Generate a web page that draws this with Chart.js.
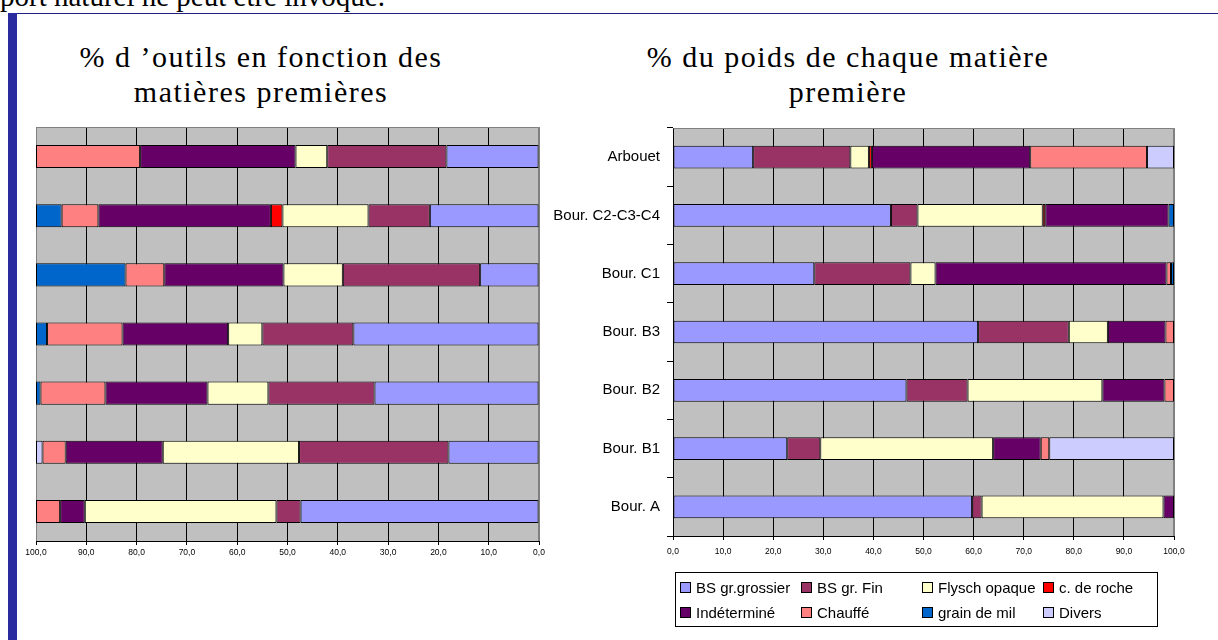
<!DOCTYPE html>
<html>
<head>
<meta charset="utf-8">
<script src="https://cdn.jsdelivr.net/npm/chart.js@4.4.1/dist/chart.umd.min.js"></script>
<style>
  body { margin: 0; background: #fff; }
  #page { position: relative; width: 1218px; height: 640px; overflow: hidden; background: #fff; }
  .serif { font-family: 'Liberation Serif', 'Times New Roman', serif; color: #000; position: absolute; }
  #topText { left: 0; top: -18px; font-size: 29px; line-height: 29px; white-space: nowrap; }
  #hline { position: absolute; left: 8px; top: 13px; width: 1210px; height: 1px; background: #202080; }
  #vbar { position: absolute; left: 8px; top: 13px; width: 9px; height: 627px; background: #2b2ba0; }
  .title { font-size: 30px; line-height: 35px; letter-spacing: 1.5px; text-align: center; width: 520px; top: 39px; }
  canvas { position: absolute; }
  #legend { position: absolute; left: 675px; top: 572px; width: 481px; height: 53px; border: 1px solid #000;
            font-family: 'Liberation Sans', Arial, sans-serif; font-size: 15px; color: #000; }
  .item { position: absolute; display: flex; align-items: center; height: 20px; white-space: nowrap; }
  .swatch { width: 9px; height: 9px; border: 1px solid #000; margin-right: 5px; }
</style>
</head>
<body>
<div id="page">
  <div id="topText" class="serif">port naturel ne peut être invoqué.</div>
  <div id="hline"></div>
  <div id="vbar"></div>
  <div class="serif title" style="left:1px">% d ’outils en fonction des<br>matières premières</div>
  <div class="serif title" style="left:588px">% du poids de chaque matière<br>première</div>
  <canvas id="outilsChart" width="560" height="480" style="left:0;top:100px"></canvas>
  <canvas id="poidsChart" width="698" height="480" style="left:520px;top:100px"></canvas>
  <div id="legend"></div>
</div>
<script>
// Catégories (de haut en bas)
const categories = ['Arbouet', 'Bour. C2-C3-C4', 'Bour. C1', 'Bour. B3', 'Bour. B2', 'Bour. B1', 'Bour. A'];
const seriesNames = ['BS gr.grossier', 'BS gr. Fin', 'Flysch opaque', 'c. de roche', 'Indéterminé', 'Chauffé', 'grain de mil', 'Divers'];
const seriesColors = ['#9999ff', '#993366', '#ffffcc', '#ff0000', '#660066', '#ff8080', '#0066cc', '#ccccff'];
const xTicks = [0, 10, 20, 30, 40, 50, 60, 70, 80, 90, 100];

// % d'outils
const outilsGrossier = [18.4, 21.7, 11.7, 36.9, 32.7, 18.0, 47.4];
const outilsFin      = [23.7, 12.2, 27.3, 18.1, 21.1, 29.7, 4.8];
const outilsFlysch   = [6.3, 17.1, 11.8, 6.8, 12.1, 27.1, 38.1];
const outilsRoche    = [0, 2.3, 0, 0, 0, 0, 0];
const outilsIndet    = [30.9, 34.3, 23.7, 21.0, 20.3, 19.3, 4.9];
const outilsChauffe  = [20.7, 7.3, 7.7, 15.0, 12.9, 4.6, 4.8];
const outilsGrain    = [0, 5.1, 17.8, 2.2, 0.9, 0, 0];
const outilsDivers   = [0, 0, 0, 0, 0, 1.3, 0];

// % du poids
const poidsGrossier = [16.0, 43.5, 28.2, 60.9, 46.6, 22.8, 59.7];
const poidsFin      = [19.4, 5.3, 19.2, 18.1, 12.2, 6.6, 1.9];
const poidsFlysch   = [3.7, 25.0, 5.0, 7.8, 26.9, 34.5, 36.3];
const poidsRoche    = [0.6, 0.5, 0, 0, 0, 0, 0];
const poidsIndet    = [31.6, 24.6, 46.1, 11.5, 12.4, 9.5, 2.1];
const poidsChauffe  = [23.3, 0, 0.9, 1.7, 1.9, 1.7, 0];
const poidsGrain    = [0, 1.1, 0.6, 0, 0, 0, 0];
const poidsDivers   = [5.4, 0, 0, 0, 0, 24.9, 0];

const outilsSeries = [outilsGrossier, outilsFin, outilsFlysch, outilsRoche, outilsIndet, outilsChauffe, outilsGrain, outilsDivers];
const poidsSeries = [poidsGrossier, poidsFin, poidsFlysch, poidsRoche, poidsIndet, poidsChauffe, poidsGrain, poidsDivers];

const sansFont = "'Liberation Sans', Arial, sans-serif";

function makeDatasets(series) {
    return series.map((data, i) => ({
        label: seriesNames[i],
        data: data,
        backgroundColor: seriesColors[i],
        borderColor: '#000',
        borderWidth: 1,
        borderSkipped: false,
        barPercentage: 0.39,
        categoryPercentage: 1
    }));
}

// fond gris + cadre de la zone de tracé
const plotFrame = {
    id: 'plotFrame',
    beforeDraw(chart) {
        const a = chart.chartArea, ctx = chart.ctx;
        ctx.save();
        ctx.fillStyle = '#c0c0c0';
        ctx.fillRect(a.left, a.top, a.right - a.left, a.bottom - a.top);
        ctx.restore();
    },
    beforeDatasetsDraw(chart, args, opts) {
        const a = chart.chartArea, ctx = chart.ctx;
        const l = a.left + 0.5, r = Math.round(a.right) - 0.5, t = a.top + 0.5, b = Math.round(a.bottom);
        ctx.save();
        ctx.strokeStyle = '#808080';
        ctx.lineWidth = 1;
        ctx.beginPath();
        ctx.moveTo(l, t); ctx.lineTo(r, t);
        ctx.moveTo(r, t); ctx.lineTo(r, b);
        if (opts.left) { ctx.moveTo(l, t); ctx.lineTo(l, b); }
        ctx.stroke();
        ctx.restore();
    }
};

function xScale(reverse, tickPad, axisHeight) {
    return {
        stacked: true,
        reverse: reverse,
        min: 0,
        max: 100,
        afterBuildTicks: axis => { axis.ticks = xTicks.map(v => ({ value: v })); },
        afterFit: axis => { axis.height = axisHeight; },
        grid: {
            color: ctx => (ctx.tick && (ctx.tick.value === 0 || ctx.tick.value === 100)) ? '#808080' : '#000',
            tickColor: '#000',
            tickLength: 4,
            lineWidth: 1
        },
        border: { display: true, color: '#000' },
        ticks: {
            padding: tickPad,
            color: '#000',
            font: { family: sansFont, size: 8.5 },
            maxRotation: 0,
            callback: v => v.toFixed(1).replace('.', ',')
        }
    };
}

// Graphique de gauche : % d'outils (axe inversé)
new Chart(document.getElementById('outilsChart'), {
    type: 'bar',
    data: { labels: categories, datasets: makeDatasets(outilsSeries) },
    options: {
        indexAxis: 'y',
        responsive: false,
        animation: false,
        layout: { padding: { left: 36, right: 21, top: 27, bottom: 0 } },
        plugins: {
            legend: { display: false },
            tooltip: { enabled: false },
            plotFrame: { left: true }
        },
        scales: {
            x: xScale(true, 3, 39),
            y: { stacked: true, display: false }
        }
    },
    plugins: [plotFrame]
});

// Graphique de droite : % du poids
const poidsChart = new Chart(document.getElementById('poidsChart'), {
    type: 'bar',
    data: { labels: categories, datasets: makeDatasets(poidsSeries) },
    options: {
        indexAxis: 'y',
        responsive: false,
        animation: false,
        layout: { padding: { left: 0, right: 44, top: 28, bottom: 0 } },
        plugins: {
            legend: { display: false },
            tooltip: { enabled: false },
            plotFrame: { left: false }
        },
        scales: {
            x: xScale(false, 7, 44),
            y: {
                stacked: true,
                afterFit: axis => { axis.width = 153; },
                grid: { drawOnChartArea: false, tickLength: 6, color: '#000', offset: true },
                border: { display: true, color: '#000' },
                ticks: { padding: 7, color: '#000', font: { family: sansFont, size: 15 } }
            }
        }
    },
    plugins: [plotFrame]
});

// Légende (4 colonnes, comme dans l'original)
const legendBox = document.getElementById('legend');
poidsChart.data.datasets.forEach((ds, i) => {
    const item = document.createElement('div');
    item.className = 'item';
    item.style.left = (4 + (i % 4) * 121) + 'px';
    item.style.top = (4 + Math.floor(i / 4) * 25) + 'px';
    const sw = document.createElement('span');
    sw.className = 'swatch';
    sw.style.background = ds.backgroundColor;
    const txt = document.createElement('span');
    txt.textContent = ds.label;
    item.appendChild(sw);
    item.appendChild(txt);
    legendBox.appendChild(item);
});
</script>
</body>
</html>
